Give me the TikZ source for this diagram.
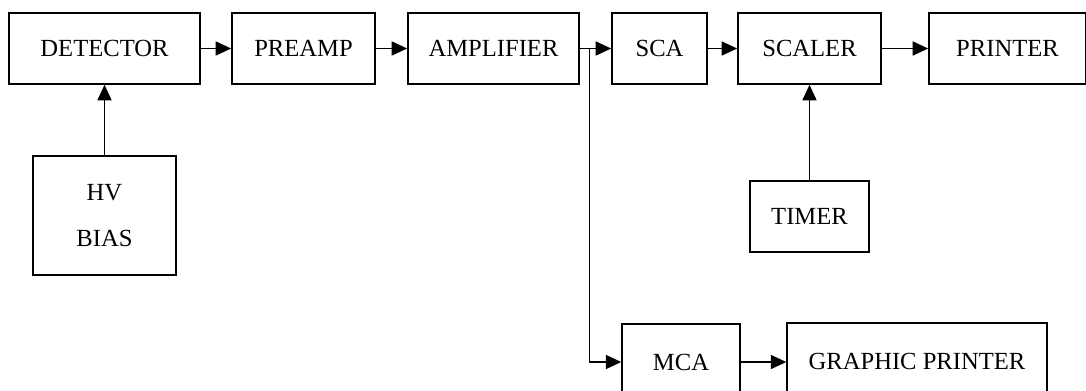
\documentclass[tikz,border=0pt]{standalone}
\usepackage{fontspec}
\setmainfont{Liberation Serif}
\usetikzlibrary{arrows.meta, calc}

\begin{document}
\begin{tikzpicture}[x=0.025cm, y=-0.025cm, >={Triangle[length=11pt, width=10pt]},
    line width=1pt, font=\fontsize{17.5}{20}\selectfont,
    box/.style={draw, inner sep=0pt, align=center,
                minimum width=3.58cm, minimum height=1.78cm},
    wide/.style={box, minimum width=4.78cm},
    small/.style={box, minimum width=2.38cm},
    low/.style={box, minimum height=1.9cm}]

    \useasboundingbox (0,0) rectangle (1086,390);

    % top row
    \node[wide] (det) at (104.5,48.5) {DETECTOR};
    \node[box] (pre) at (303.5,48.5) {PREAMP};
    \node[box, minimum width=4.28cm] (amp) at (493.5,48.5) {AMPLIFIER};
    \node[small] (sca) at (659.5,48.5) {SCA};
    \node[box] (scl) at (809.5,48.5) {SCALER};
    \node[box, minimum width=3.93cm] (prn) at (1007.5,48.5) {PRINTER};

    % lower boxes
    \node[box, minimum height=2.98cm] (hv) at (104.5,215.5) {HV\\[13pt]BIAS};
    \node[box, minimum width=2.98cm] (tmr) at (809.5,216.5) {TIMER};
    \node[low, minimum width=2.95cm] (mca) at (681,362) {MCA};
    \node[low, minimum width=6.5cm] (gp) at (917,361) {GRAPHIC PRINTER};

    % edges
    \draw[->] (det) -- (pre);
    \draw[->] (pre) -- (amp);
    \draw[->] (amp) -- (sca);
    \path (amp.east) -- (sca.west) coordinate[pos=0.3] (split);
    \draw[->] (split) |- (mca.west);
    \draw[->] (sca) -- (scl);
    \draw[->] (scl) -- (prn);
    \draw[->] (hv.north) -- (det.south);
    \draw[->] (tmr.north) -- (scl.south);
    \draw[->] (mca.east) -- (mca.east -| gp.west);
\end{tikzpicture}
\end{document}
